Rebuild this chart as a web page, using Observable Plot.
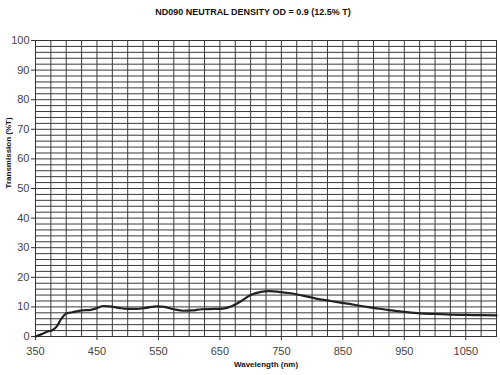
<!DOCTYPE html>
<html>
<head>
<meta charset="utf-8">
<script src="https://cdn.jsdelivr.net/npm/d3@7"></script>
<script src="https://cdn.jsdelivr.net/npm/@observablehq/plot@0.6"></script>
<style>
  html, body { margin: 0; padding: 0; background: #fff; }
  #title { font: bold 9px "Liberation Sans", Arial, sans-serif; height: 24px; line-height: 24px; text-align: center; color: #111; padding-left: 6px; }
  svg { display: block; }
</style>
</head>
<body>
<div id="title">ND090 NEUTRAL DENSITY OD = 0.9 (12.5% T)</div>
<div id="chart"></div>
<script>
const titleText = "ND090 NEUTRAL DENSITY OD = 0.9 (12.5% T)";
const xLabel = "Wavelength (nm)";
const yLabel = "Transmission (%T)";

const wavelength = [350, 360, 370, 378, 385, 392, 400, 410, 425, 440, 450, 460, 470, 485, 500, 515, 530, 548, 560, 575, 590, 605, 620, 640, 655, 670, 685, 700, 715, 730, 745, 765, 785, 805, 830, 860, 880, 900, 925, 950, 975, 1000, 1025, 1050, 1075, 1100];
const transmission = [0, 0.8, 1.7, 2.2, 3.5, 6.0, 7.8, 8.2, 8.8, 9.0, 9.6, 10.3, 10.2, 9.7, 9.3, 9.3, 9.7, 10.2, 10.0, 9.2, 8.7, 8.8, 9.2, 9.3, 9.4, 10.3, 12.0, 14.0, 15.0, 15.3, 15.1, 14.6, 13.8, 12.9, 12.0, 11.0, 10.3, 9.7, 8.9, 8.3, 7.8, 7.6, 7.4, 7.3, 7.2, 7.1];

const xTicks = [350, 450, 550, 650, 750, 850, 950, 1050];
const yTicks = [0, 10, 20, 30, 40, 50, 60, 70, 80, 90, 100];
const xGrid = d3.range(350, 1101, 25);
const yGrid = d3.range(0, 101, 2);

const data = wavelength.map((w, i) => ({w, t: transmission[i]}));

const chart = Plot.plot({
  width: 500,
  height: 351,
  marginTop: 16,
  marginBottom: 39,
  marginLeft: 35,
  marginRight: 4,
  style: {fontFamily: "'Liberation Sans', Arial, sans-serif", fontSize: "11px", color: "#333", background: "#fff"},
  x: {domain: [350, 1100], label: null},
  y: {domain: [0, 100], label: null},
  marks: [
    Plot.gridX(xGrid, {stroke: "#3a3a3a", strokeOpacity: 1, strokeWidth: 1}),
    Plot.gridY(yGrid, {stroke: "#3a3a3a", strokeOpacity: 1, strokeWidth: 1}),
    Plot.frame({stroke: "#333"}),
    Plot.axisX(xTicks, {tickSize: 4, tickPadding: 7, fontSize: 11, fill: "#444", stroke: "#333", tickFormat: d => String(d), label: null}),
    Plot.axisY(yTicks, {tickSize: 4, tickPadding: 2, fontSize: 11, fill: "#444", stroke: "#333", tickFormat: d => String(d), label: null}),
    Plot.line(data, {x: "w", y: "t", stroke: "#222", strokeWidth: 2.2, curve: "monotone-x"}),
    Plot.text([xLabel], {frameAnchor: "bottom", dy: 30, text: d => d, fontWeight: "bold", fontSize: 8, fill: "#111"}),
    Plot.text([yLabel], {frameAnchor: "left", dx: -27, rotate: -90, text: d => d, fontWeight: "bold", fontSize: 8, fill: "#111"})
  ]
});
document.getElementById("chart").appendChild(chart);
</script>
</body>
</html>
